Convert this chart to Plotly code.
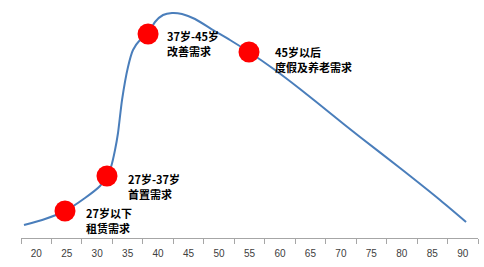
import plotly.graph_objects as go

# traced demand curve (age, relative level)
curve_age = [17.99, 21.44, 24.72, 28.00, 30.47, 31.61, 32.27, 32.93, 33.42, 34.08, 35.06, 35.88, 37.03, 38.35,
             39.49, 40.81, 42.28, 43.92, 46.06, 49.01, 51.80, 54.92, 59.19, 63.29, 68.21, 73.14, 79.70, 86.27, 90.54]
curve_val = [13, 19, 27, 40, 52, 62, 71, 88, 105, 138, 171, 188, 198, 204,
             216, 223, 225, 224, 219, 208, 198, 186, 168, 149, 125, 101, 70, 38, 16]

# highlighted stage points
stage_age = [24.72, 31.61, 38.35, 54.92]
stage_val = [27, 62, 204, 186]
label_line1 = ["27岁以下", "27岁-37岁", "37岁-45岁", "45岁以后"]
label_line2 = ["租赁需求", "首置需求", "改善需求", "度假及养老需求"]
label_age = [28.0, 34.9, 41.3, 59.1]
label_val = [34, 68, 211, 195]

tick_vals = [20, 25, 30, 35, 40, 45, 50, 55, 60, 65, 70, 75, 80, 85, 90]
boundary_vals = [17.5 + 5 * i for i in range(16)]

fig = go.Figure()
fig.add_trace(go.Scatter(x=curve_age, y=curve_val, mode="lines",
                         line=dict(color="#4A7EBB", width=2, shape="spline", smoothing=0.6),
                         hoverinfo="skip"))
fig.add_trace(go.Scatter(x=stage_age, y=stage_val, mode="markers",
                         marker=dict(color="#FF0000", size=21, line=dict(width=0))))

for a, v, t1, t2 in zip(label_age, label_val, label_line1, label_line2):
    for t, dy in ((t1, 0), (t2, -15)):
        fig.add_annotation(x=a, y=v, xref="x", yref="y", text="<b>" + t + "</b>",
                           showarrow=False, xanchor="left", yanchor="top", align="left",
                           yshift=dy, borderpad=0,
                           font=dict(family="Noto Sans CJK SC", size=11, color="#000000"))

fig.update_layout(
    width=484, height=267,
    margin=dict(l=21, r=6, t=8, b=29),
    paper_bgcolor="white", plot_bgcolor="white",
    showlegend=False,
    xaxis=dict(range=[17.5, 92.5], tickvals=tick_vals, ticks="", showgrid=False,
               zeroline=False, showline=True, linecolor="#A6A6A6", linewidth=1,
               tickfont=dict(family="Liberation Sans", size=10, color="#404040"),
               ticklabelstandoff=6,
               minor=dict(tickvals=boundary_vals, ticks="outside", ticklen=5,
                          tickcolor="#A6A6A6", showgrid=False)),
    yaxis=dict(range=[0, 230], visible=False, showgrid=False, zeroline=False),
)

fig.write_html("out.html")
